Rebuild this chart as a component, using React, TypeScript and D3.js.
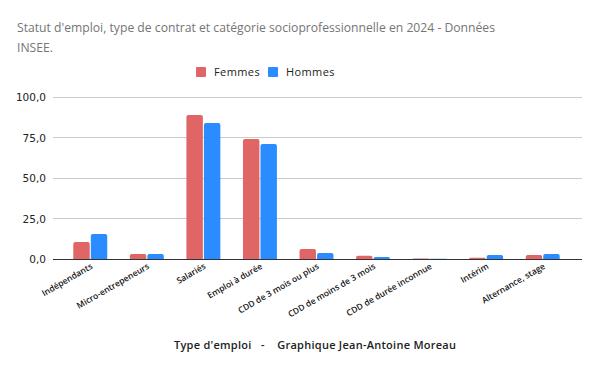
import React, { useEffect, useRef } from "react";
import * as d3 from "d3";

const categories = [
  "Indépendants",
  "Micro-entrepeneurs",
  "Salariés",
  "Emploi à durée",
  "CDD de 3 mois ou plus",
  "CDD de moins de 3 mois",
  "CDD de durée inconnue",
  "Intérim",
  "Alternance, stage",
];
const femmes = [10.5, 3.1, 88.9, 74.0, 6.2, 2.0, 0.3, 0.8, 2.5];
const hommes = [15.4, 3.1, 84.0, 71.0, 3.7, 1.2, 0.2, 2.5, 3.1];
const series = [
  { name: "Femmes", values: femmes, color: "#e06666" },
  { name: "Hommes", values: hommes, color: "#2a8cff" },
];
const yTicks = [0, 25, 50, 75, 100];

const W = 600;
const H = 371;

// bar with small rounded top corners
const barPath = (x: number, y: number, w: number, h: number, r: number) => {
  const rr = Math.min(r, h, w / 2);
  return `M${x},${y + h}V${y + rr}Q${x},${y} ${x + rr},${y}H${x + w - rr}Q${x + w},${y} ${x + w},${y + rr}V${y + h}Z`;
};

const App = () => {
  const svgRef = useRef<SVGSVGElement>(null);

  useEffect(() => {
    const svg = d3.select(svgRef.current);
    svg.selectAll("*").remove();

    const x0 = d3.scaleBand().domain(categories).range([62, 571]).paddingInner(0.4).paddingOuter(0.2);
    const x1 = d3
      .scaleBand()
      .domain(series.map((s) => s.name))
      .range([0, x0.bandwidth()])
      .paddingInner(0.06);
    const y = d3.scaleLinear().domain([0, 100]).range([259, 97]);

    // title
    const title = svg
      .append("text")
      .attr("fill", "#757575")
      .style("font-family", "'Open Sans', sans-serif")
      .style("font-size", "13.5px");
    title
      .append("tspan")
      .attr("x", 17)
      .attr("y", 32)
      .attr("textLength", 478)
      .attr("lengthAdjust", "spacingAndGlyphs")
      .text("Statut d'emploi, type de contrat et catégorie socioprofessionnelle en 2024 - Données");
    title
      .append("tspan")
      .attr("x", 17)
      .attr("y", 52)
      .attr("textLength", 36)
      .attr("lengthAdjust", "spacingAndGlyphs")
      .text("INSEE.");

    // legend
    const lg = svg
      .append("g")
      .style("font-family", "'Open Sans', sans-serif")
      .style("font-size", "11px")
      .style("letter-spacing", "0.4px");
    const legendPos = [196, 268];
    series.forEach((s, i) => {
      lg.append("rect").attr("x", legendPos[i]).attr("y", 67).attr("width", 10).attr("height", 10).attr("rx", 1).attr("fill", s.color);
      lg.append("text").attr("x", legendPos[i] + 18).attr("y", 76).attr("fill", "#222").text(s.name);
    });

    // grid
    const grid = svg.append("g");
    yTicks.forEach((t) => {
      grid
        .append("line")
        .attr("x1", 53)
        .attr("x2", 582)
        .attr("y1", y(t))
        .attr("y2", y(t))
        .attr("stroke", t === 0 ? "#333" : "#ccc")
        .attr("stroke-width", 1)
        .attr("shape-rendering", "crispEdges");
      grid
        .append("text")
        .attr("x", 46)
        .attr("y", y(t) + 4)
        .attr("text-anchor", "end")
        .attr("fill", "#222")
        .style("font-family", "'DejaVu Sans', sans-serif")
        .style("font-size", "10.5px")
        .text(d3.format(".1f")(t).replace(".", ","));
    });

    // bars
    const groups = svg
      .append("g")
      .selectAll("g")
      .data(categories)
      .join("g")
      .attr("transform", (d) => `translate(${x0(d)},0)`);
    groups
      .selectAll("path")
      .data((_, i) => series.map((s) => ({ s, v: s.values[i] })))
      .join("path")
      .attr("d", (d) => barPath(x1(d.s.name)!, y(d.v), x1.bandwidth(), y(0) - y(d.v), 2))
      .attr("fill", (d) => d.s.color);

    // baseline on top
    svg
      .append("line")
      .attr("x1", 53)
      .attr("x2", 582)
      .attr("y1", y(0))
      .attr("y2", y(0))
      .attr("stroke", "#333")
      .attr("shape-rendering", "crispEdges");

    // x labels
    svg
      .append("g")
      .selectAll("text")
      .data(categories)
      .join("text")
      .attr("transform", (d) => `translate(${x0(d)! + x0.bandwidth() / 2 + 3},${268}) rotate(-30)`)
      .attr("text-anchor", "end")
      .attr("fill", "#111")
      .style("font-family", "'Open Sans', sans-serif")
      .style("font-size", "8.5px")
      .style("font-weight", "600")
      .text((d) => d);

    // axis title
    svg
      .append("text")
      .attr("x", 174)
      .attr("y", 349)
      .attr("fill", "#222")
      .style("font-family", "'Open Sans', sans-serif")
      .style("font-size", "11px")
      .style("font-weight", "600")
      .style("white-space", "pre")
      .attr("xml:space", "preserve")
      .attr("textLength", 282)
      .attr("lengthAdjust", "spacing")
      .text("Type d'emploi   -    Graphique Jean-Antoine Moreau");
  }, []);

  return (
    <svg
      ref={svgRef}
      width={W}
      height={H}
      style={{ position: "absolute", left: 0, top: 0, background: "#fff" }}
    ></svg>
  );
};

export default App;
